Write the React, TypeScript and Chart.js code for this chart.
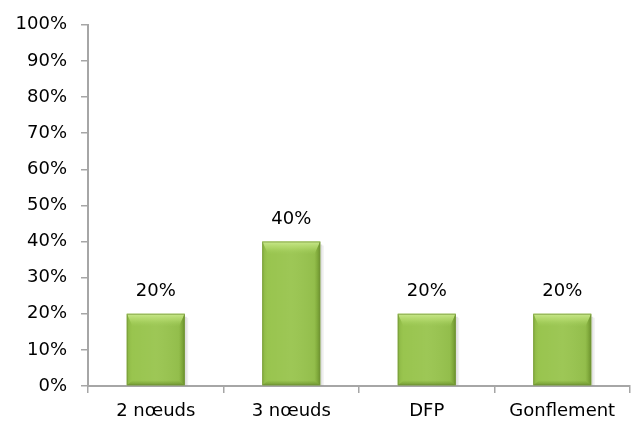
import React, { useEffect, useRef } from "react";
import { Chart, registerables } from "chart.js";

Chart.register(...registerables);

const categories = ["2 nœuds", "3 nœuds", "DFP", "Gonflement"];
const values = [20, 40, 20, 20];
const yMax = 100;
const yStep = 10;

const FONT = "'DejaVu Sans', sans-serif";

const bevelPlugin = {
  id: "bevel",
  beforeDatasetsDraw(chart: any) {
    const ctx = chart.ctx;
    const meta = chart.getDatasetMeta(0);
    meta.data.forEach((bar: any) => {
      const { x, y, width, base } = bar.getProps(["x", "y", "width", "base"], true);
      const r = x + width / 2;
      ctx.save();
      ctx.fillStyle = "rgba(0,0,0,0.12)";
      ctx.fillRect(r, y + 3, 2, base - y - 3);
      ctx.fillStyle = "rgba(0,0,0,0.06)";
      ctx.fillRect(r + 2, y + 4, 1.5, base - y - 4);
      ctx.restore();
    });
  },
  afterDatasetsDraw(chart: any) {
    const ctx = chart.ctx;
    const meta = chart.getDatasetMeta(0);
    meta.data.forEach((bar: any, i: number) => {
      const { x, y, width, base } = bar.getProps(["x", "y", "width", "base"], true);
      const l = x - width / 2;
      const r = x + width / 2;
      const t = y;
      const b = base;
      const dT = 13;
      const dS = 6;
      const dB = 5;
      ctx.save();
      // body horizontal shading
      const g = ctx.createLinearGradient(l, 0, r, 0);
      g.addColorStop(0, "rgba(255,255,255,0.0)");
      g.addColorStop(0.5, "rgba(255,255,255,0.05)");
      g.addColorStop(1, "rgba(40,70,10,0.08)");
      ctx.fillStyle = g;
      ctx.fillRect(l, t, r - l, b - t);
      // top bevel
      const gt = ctx.createLinearGradient(0, t, 0, t + dT);
      gt.addColorStop(0, "rgba(205,235,145,0.95)");
      gt.addColorStop(0.5, "rgba(185,222,115,0.6)");
      gt.addColorStop(1, "rgba(160,205,90,0.0)");
      ctx.fillStyle = gt;
      ctx.beginPath();
      ctx.moveTo(l, t);
      ctx.lineTo(r, t);
      ctx.lineTo(r - dS, t + dT);
      ctx.lineTo(l + dS, t + dT);
      ctx.closePath();
      ctx.fill();
      // left bevel
      const gl = ctx.createLinearGradient(l, 0, l + dS, 0);
      gl.addColorStop(0, "rgba(120,160,55,0.55)");
      gl.addColorStop(1, "rgba(150,195,75,0.0)");
      ctx.fillStyle = gl;
      ctx.beginPath();
      ctx.moveTo(l, t);
      ctx.lineTo(l + dS, t + dT);
      ctx.lineTo(l + dS, b - dB);
      ctx.lineTo(l, b);
      ctx.closePath();
      ctx.fill();
      // right bevel
      const gr = ctx.createLinearGradient(r - dS, 0, r, 0);
      gr.addColorStop(0, "rgba(110,150,40,0.0)");
      gr.addColorStop(1, "rgba(85,120,30,0.65)");
      ctx.fillStyle = gr;
      ctx.beginPath();
      ctx.moveTo(r, t);
      ctx.lineTo(r - dS, t + dT);
      ctx.lineTo(r - dS, b - dB);
      ctx.lineTo(r, b);
      ctx.closePath();
      ctx.fill();
      // bottom bevel
      const gb = ctx.createLinearGradient(0, b - dB, 0, b);
      gb.addColorStop(0, "rgba(100,140,35,0.0)");
      gb.addColorStop(1, "rgba(85,120,30,0.6)");
      ctx.fillStyle = gb;
      ctx.beginPath();
      ctx.moveTo(l, b);
      ctx.lineTo(r, b);
      ctx.lineTo(r - dS, b - dB);
      ctx.lineTo(l + dS, b - dB);
      ctx.closePath();
      ctx.fill();
      // outline
      ctx.strokeStyle = "rgba(115,150,55,0.7)";
      ctx.lineWidth = 1;
      ctx.strokeRect(l + 0.5, t + 0.5, r - l - 1, b - t - 1);
      // value label
      ctx.fillStyle = "#000";
      ctx.font = `18px ${FONT}`;
      ctx.textAlign = "center";
      ctx.textBaseline = "bottom";
      ctx.fillText(`${values[i]}%`, x, t - 13);
      ctx.restore();
    });
  },
};

export default function App() {
  const ref = useRef<HTMLCanvasElement>(null);
  useEffect(() => {
    document.body.style.margin = "0";
    const chart = new Chart(ref.current!, {
      type: "bar",
      data: {
        labels: categories,
        datasets: [
          {
            data: values,
            backgroundColor: "#98C44D",
            borderWidth: 0,
            barPercentage: 0.856,
            categoryPercentage: 0.5,
          },
        ],
      },
      options: {
        animation: false,
        responsive: false,
        maintainAspectRatio: false,
        layout: { padding: { top: 22, right: 2, left: 0, bottom: 0 } },
        plugins: { legend: { display: false }, tooltip: { enabled: false } },
        scales: {
          x: {
            grid: {
              offset: true,
              drawOnChartArea: false,
              drawTicks: true,
              tickLength: 7,
              color: "#A6A6A6",
              lineWidth: 1.5,
            },
            border: { color: "#A6A6A6", width: 2 },
            ticks: {
              color: "#000",
              font: { family: FONT, size: 18 },
              padding: 8,
              maxRotation: 0,
            },
            afterFit: (s: any) => {
              s.height = 40;
            },
          },
          y: {
            min: 0,
            max: yMax,
            grid: {
              drawOnChartArea: false,
              drawTicks: true,
              tickLength: 7,
              color: "#A6A6A6",
              lineWidth: 1.5,
            },
            border: { color: "#A6A6A6", width: 2 },
            ticks: {
              stepSize: yStep,
              color: "#000",
              font: { family: FONT, size: 18 },
              padding: 14,
              callback: (v: any) => `${v}%`,
            },
            afterFit: (s: any) => {
              s.width = 88;
            },
          },
        },
      },
      plugins: [bevelPlugin],
    });
    return () => chart.destroy();
  }, []);
  return (
    <div style={{ width: 632, height: 426 }}>
      <canvas ref={ref} width={632} height={426} style={{ display: "block" }} />
    </div>
  );
}
